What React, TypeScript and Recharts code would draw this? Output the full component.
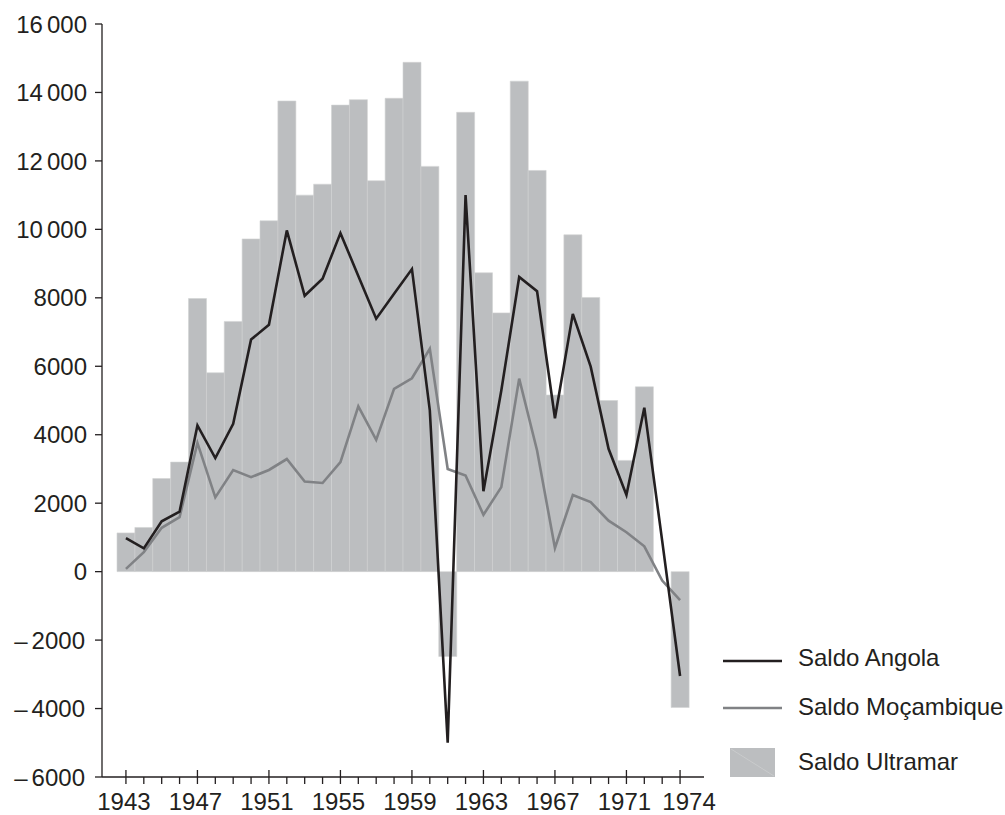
import React from "react";
import { ComposedChart, Bar, Line, XAxis, YAxis } from "recharts";

const years = [
  1943, 1944, 1945, 1946, 1947, 1948, 1949, 1950, 1951, 1952, 1953, 1954, 1955, 1956, 1957, 1958,
  1959, 1960, 1961, 1962, 1963, 1964, 1965, 1966, 1967, 1968, 1969, 1970, 1971, 1972, 1973, 1974,
];

const saldoUltramar = [
  1130, 1290, 2720, 3200, 7980, 5810, 7310, 9720, 10250, 13750, 11000, 11320, 13630, 13790, 11420, 13830,
  14880, 11840, -2480, 13420, 8730, 7560, 14330, 11720, 5160, 9840, 8010, 5000, 3250, 5400, 0, -3970,
];

const saldoAngola = [
  980, 680, 1470, 1750, 4270, 3320, 4320, 6780, 7210, 9970, 8060, 8560, 9890, 8640, 7390, 8120,
  8840, 4710, -5000, 11000, 2350, 5290, 8610, 8190, 4480, 7530, 5990, 3590, 2240, 4790, 900, -3050,
];

const saldoMocambique = [
  80, 570, 1280, 1590, 3760, 2170, 2970, 2760, 2970, 3290, 2630, 2590, 3200, 4830, 3850, 5340,
  5650, 6510, 3000, 2810, 1660, 2470, 5640, 3540, 690, 2240, 2030, 1490, 1150, 740, -260, -830,
];

const yTicks = [-6000, -4000, -2000, 0, 2000, 4000, 6000, 8000, 10000, 12000, 14000, 16000];
const labeledYears = [1943, 1947, 1951, 1955, 1959, 1963, 1967, 1971, 1974];

const seriesNames = ["Saldo Angola", "Saldo Moçambique", "Saldo Ultramar"];

const data = years.map((year, i) => ({
  year,
  ultramar: saldoUltramar[i],
  angola: saldoAngola[i],
  mocambique: saldoMocambique[i],
}));

const INK = "#231f20";
const BAR = "#bcbec0";
const GREY = "#808285";
const FONT = "'Liberation Sans', Arial, Helvetica, sans-serif";

const YTick = (props: any) => {
  const { x, y, payload } = props;
  const v = payload.value as number;
  const neg = v < 0;
  const s = String(Math.abs(v));
  const digits =
    s.length > 4 ? (
      <>
        <tspan>{s.slice(0, s.length - 3)}</tspan>
        <tspan dx={4}>{s.slice(-3)}</tspan>
      </>
    ) : (
      <tspan>{s}</tspan>
    );
  return (
    <text
      x={neg ? x - 10 : x - 8}
      y={y + 8.6}
      textAnchor="end"
      fontSize={24}
      fill={INK}
      fontFamily={FONT}
    >
      {neg ? (
        <>
          <tspan>–</tspan>
          <tspan dx={4}>{s}</tspan>
        </>
      ) : (
        digits
      )}
    </text>
  );
};

const XTick = (props: any) => {
  const { x, y, payload } = props;
  const yr = payload.value as number;
  const major = labeledYears.includes(yr);
  const dx = yr === labeledYears[labeledYears.length - 1] ? 9 : -2;
  return (
    <g>
      <line
        x1={x}
        x2={x}
        y1={major ? y - 7 : y}
        y2={y + 7}
        stroke={INK}
        strokeWidth={1.3}
      />
      {major && (
        <text
          x={x + dx}
          y={y + 33}
          textAnchor="middle"
          fontSize={24}
          fill={INK}
          fontFamily={FONT}
        >
          {yr}
        </text>
      )}
    </g>
  );
};

const LegendOverlay = () => (
  <svg
    width={1005}
    height={815}
    style={{ position: "absolute", left: 0, top: 0, pointerEvents: "none" }}
  >
    <line x1={723} x2={782} y1={661} y2={661} stroke={INK} strokeWidth={2.6} />
    <text x={798} y={666} fontSize={24} fill={INK} fontFamily={FONT}>
      {seriesNames[0]}
    </text>
    <line x1={723} x2={782} y1={708} y2={708} stroke={GREY} strokeWidth={2.6} />
    <text x={798} y={715} fontSize={24} fill={INK} fontFamily={FONT}>
      {seriesNames[1]}
    </text>
    <rect x={730} y={748} width={45} height={29} fill={BAR} />
    <line x1={731} y1={749} x2={774} y2={776} stroke="#d1d3d4" strokeWidth={0.6} />
    <text x={798} y={770} fontSize={24} fill={INK} fontFamily={FONT}>
      {seriesNames[2]}
    </text>
  </svg>
);

export default function App() {
  return (
    <div
      style={{
        position: "absolute",
        left: 0,
        top: 0,
        width: 1005,
        height: 815,
        background: "#fff",
        fontFamily: FONT,
      }}
    >
      <ComposedChart
        width={1005}
        height={815}
        data={data}
        margin={{ top: 24, right: 301, bottom: 0, left: 0 }}
        barCategoryGap={0}
        barGap={0}
      >
        <XAxis
          dataKey="year"
          type="category"
          interval={0}
          height={38}
          padding={{ left: 15, right: 15 }}
          axisLine={{ stroke: INK, strokeWidth: 1.3 }}
          tickLine={false}
          tickSize={0}
          tickMargin={0}
          tick={<XTick />}
        />
        <XAxis
          xAxisId="top"
          dataKey="year"
          orientation="top"
          height={0}
          axisLine={{ stroke: INK, strokeWidth: 1.3 }}
          tick={false}
          tickLine={false}
        />
        <YAxis
          type="number"
          domain={[-6000, 16000]}
          ticks={yTicks}
          interval={0}
          width={102}
          allowDataOverflow
          axisLine={{ stroke: INK, strokeWidth: 1.3 }}
          tickLine={{ stroke: INK, strokeWidth: 1.3 }}
          tickSize={7}
          tickMargin={0}
          tick={<YTick />}
        />
        <YAxis
          yAxisId="right"
          orientation="right"
          type="number"
          domain={[-6000, 16000]}
          allowDataOverflow
          width={0}
          axisLine={{ stroke: INK, strokeWidth: 1.3 }}
          tick={false}
          tickLine={false}
        />
        <Bar
          dataKey="ultramar"
          name={seriesNames[2]}
          fill={BAR}
          stroke="#d1d3d4"
          strokeWidth={0.6}
          isAnimationActive={false}
        />
        <Line
          dataKey="mocambique"
          name={seriesNames[1]}
          type="linear"
          stroke={GREY}
          strokeWidth={2.6}
          dot={false}
          activeDot={false}
          isAnimationActive={false}
        />
        <Line
          dataKey="angola"
          name={seriesNames[0]}
          type="linear"
          stroke={INK}
          strokeWidth={2.6}
          dot={false}
          activeDot={false}
          isAnimationActive={false}
        />
      </ComposedChart>
      <LegendOverlay />
    </div>
  );
}
